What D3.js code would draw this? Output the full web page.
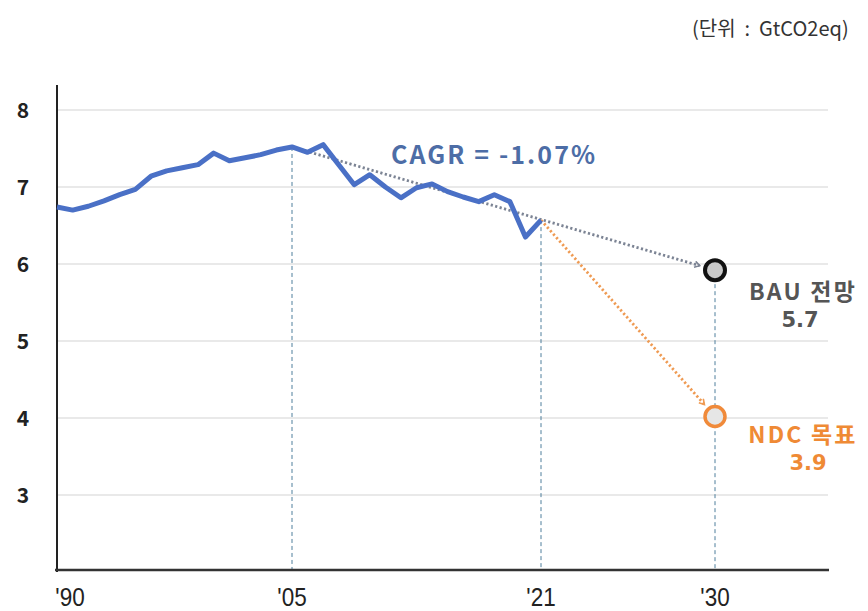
<!DOCTYPE html>
<meta charset="utf-8">
<style>
body { margin: 0; background: #fff; }
svg { display: block; font-family: "Noto Sans CJK KR", "Noto Sans", sans-serif; }
.grid line { stroke: #e2e2e2; stroke-width: 1.5px; }
.guide { stroke: #4f7f9c; stroke-width: 1px; stroke-dasharray: 4,3; }
.ytick { font-size: 21px; font-weight: bold; fill: #222; }
.xtick { font-family: "Liberation Sans", "Roboto", sans-serif; font-size: 25px; fill: #222; }
</style>
<body>
<svg width="868" height="611"></svg>
<script src="https://d3js.org/d3.v7.min.js"></script>
<script>
// emissions 1990-2021 (GtCO2eq)
var years = d3.range(1990, 2022);
var emissions = [6.74, 6.70, 6.75, 6.82, 6.90, 6.97, 7.14, 7.21, 7.25, 7.29,
                 7.44, 7.34, 7.38, 7.42, 7.48, 7.52, 7.45, 7.55, 7.29, 7.03,
                 7.16, 7.00, 6.86, 6.99, 7.04, 6.94, 6.87, 6.81, 6.90, 6.81,
                 6.35, 6.57];
var yTicks = [3, 4, 5, 6, 7, 8];
var xTickYears = [1990, 2005, 2021, 2030];
var xTickLabels = ["'90", "'05", "'21", "'30"];
// 2030 outlook points (drawn position) and their labels
var targetYear = 2030;
var bauValue = 5.92, bauLabel = ["BAU 전망", "5.7"];
var ndcValue = 4.02, ndcLabel = ["NDC 목표", "3.9"];
var cagrText = "CAGR = -1.07%";
var unitText = "(단위  :  GtCO2eq)";

var svg = d3.select("svg");

// the time axis is squeezed after 2021, so use a piecewise scale
var x = d3.scaleLinear()
    .domain([1990, 2005, 2021, 2030, 2035.9])
    .range([57, 292, 541, 715, 829]);
var y = d3.scaleLinear().domain([2, 8]).range([572, 110]);

// grid
svg.append("g").attr("class", "grid")
  .selectAll("line").data(yTicks).enter().append("line")
    .attr("x1", x(1990)).attr("x2", 828)
    .attr("y1", function(d) { return y(d); })
    .attr("y2", function(d) { return y(d); });

// y labels
svg.append("g").selectAll("text").data(yTicks).enter().append("text")
    .attr("class", "ytick")
    .attr("x", 23).attr("y", function(d) { return y(d); })
    .attr("dy", "0.36em")
    .attr("text-anchor", "middle")
    .text(function(d) { return d; });

var points = years.map(function(yr, i) { return {year: yr, value: emissions[i]}; });
function valueAt(yr) { return emissions[years.indexOf(yr)]; }

// guide lines
svg.append("line").attr("class", "guide")
    .attr("x1", x(2005)).attr("x2", x(2005))
    .attr("y1", y(valueAt(2005))).attr("y2", y(2) - 2);
svg.append("line").attr("class", "guide")
    .attr("x1", x(2021)).attr("x2", x(2021))
    .attr("y1", y(valueAt(2021))).attr("y2", y(2) - 2);
svg.append("line").attr("class", "guide")
    .attr("x1", x(targetYear)).attr("x2", x(targetYear))
    .attr("y1", y(bauValue)).attr("y2", y(2) - 2);

// axes
svg.append("line")
    .attr("x1", x(1990)).attr("x2", x(1990))
    .attr("y1", 85).attr("y2", y(2))
    .attr("stroke", "#222").attr("stroke-width", 2);
svg.append("line")
    .attr("x1", x(1990) - 2).attr("x2", 829)
    .attr("y1", y(2) - 2).attr("y2", y(2) - 2)
    .attr("stroke", "#333").attr("stroke-width", 2.5);

svg.append("g").selectAll("text").data(xTickYears).enter().append("text")
    .attr("class", "xtick")
    .attr("transform", function(d, i) {
      return "translate(" + (x(d) + (i === 0 ? 13 : 0)) + ",606) scale(0.9,1)";
    })
    .attr("text-anchor", "middle")
    .text(function(d, i) { return xTickLabels[i]; });

// arrow markers
var defs = svg.append("defs");
function marker(id, color) {
  defs.append("marker").attr("id", id)
      .attr("viewBox", "0 0 8 8").attr("refX", 6).attr("refY", 4)
      .attr("markerWidth", 8).attr("markerHeight", 8)
      .attr("markerUnits", "userSpaceOnUse")
      .attr("orient", "auto")
    .append("path").attr("d", "M1,1 L6,4 L1,7")
      .attr("fill", "none").attr("stroke", color).attr("stroke-width", 1.6);
}
marker("arrGray", "#7c8494");
marker("arrOrange", "#ef9a52");

function dotted(x1, y1, x2, y2, color, m) {
  var dx = x2 - x1, dy = y2 - y1, len = Math.sqrt(dx * dx + dy * dy);
  var cut = 16;
  svg.append("line")
      .attr("x1", x1).attr("y1", y1)
      .attr("x2", x2 - dx / len * cut).attr("y2", y2 - dy / len * cut)
      .attr("stroke", color).attr("stroke-width", 2.8)
      .attr("stroke-dasharray", "2.2,2.4")
      .attr("marker-end", "url(#" + m + ")");
}
dotted(x(2005), y(valueAt(2005)), x(targetYear), y(bauValue), "#7c8494", "arrGray");
dotted(x(2021), y(valueAt(2021)), x(targetYear), y(ndcValue), "#ef9a52", "arrOrange");

// emission line
var line = d3.line()
    .x(function(d) { return x(d.year); })
    .y(function(d) { return y(d.value); });
svg.append("path").datum(points)
    .attr("d", line)
    .attr("fill", "none")
    .attr("stroke", "#4a70c6")
    .attr("stroke-width", 5)
    .attr("stroke-linejoin", "round");

// 2030 markers
svg.append("circle")
    .attr("cx", x(targetYear)).attr("cy", y(bauValue)).attr("r", 10)
    .attr("fill", "#c9c9c9").attr("stroke", "#111").attr("stroke-width", 4);
svg.append("circle")
    .attr("cx", x(targetYear)).attr("cy", y(ndcValue)).attr("r", 10)
    .attr("fill", "#e6e6e6").attr("stroke", "#f08a3a").attr("stroke-width", 3.5);

function label(lines, yTop, color, numX) {
  svg.append("text")
      .attr("x", 803).attr("y", yTop)
      .attr("text-anchor", "middle")
      .attr("font-size", 23).attr("font-weight", "bold")
      .attr("letter-spacing", 2.2)
      .attr("fill", color)
      .text(lines[0]);
  svg.append("text")
      .attr("x", numX).attr("y", yTop + 27)
      .attr("text-anchor", "middle")
      .attr("font-family", "DejaVu Sans, sans-serif")
      .attr("font-size", 21).attr("font-weight", "bold")
      .attr("fill", color)
      .text(lines[1]);
}
label(bauLabel, 300, "#555555", 800);
label(ndcLabel, 443, "#ef8a35", 808);

svg.append("text")
    .attr("x", 391).attr("y", 164)
    .attr("font-size", 25).attr("font-weight", "bold")
    .attr("letter-spacing", 2.1)
    .attr("fill", "#4d6da6")
    .text(cagrText);

svg.append("text")
    .attr("x", 692).attr("y", 36)
    .attr("font-size", 20)
    .attr("fill", "#333")
    .style("white-space", "pre")
    .text(unitText);
</script>
</body>
